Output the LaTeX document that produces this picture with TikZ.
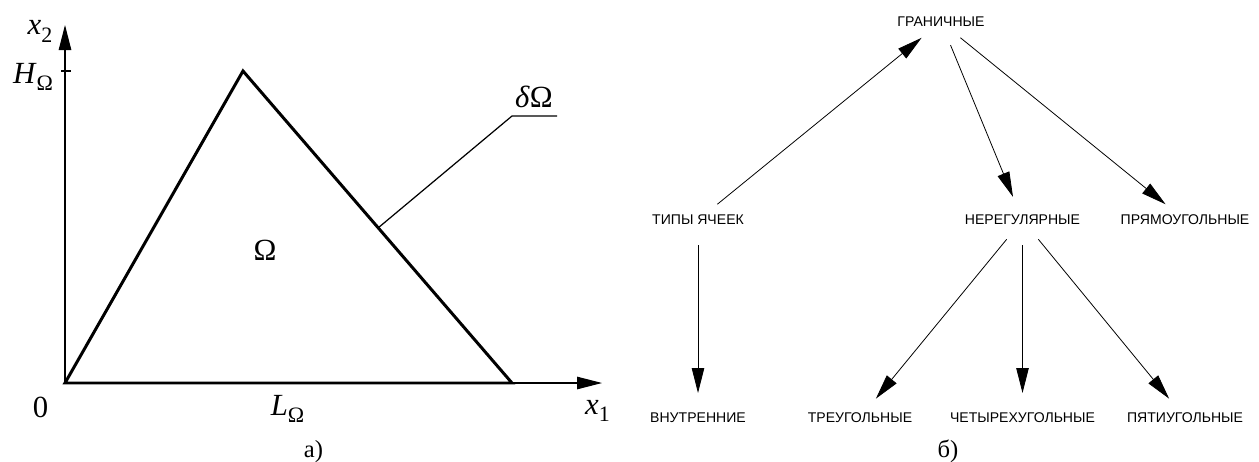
\documentclass[tikz,border=0pt]{standalone}
\usepackage{fontspec}
\usetikzlibrary{arrows.meta}
\newfontfamily\tms{Liberation Serif}
\newfontfamily\lab{Liberation Sans}
\newcommand\lo[1]{\raisebox{-0.25em}{\fontsize{12.5}{13}\selectfont #1}}
\begin{document}
\begin{tikzpicture}[x=0.2mm,y=-0.2mm,
    mlab/.style={anchor=base,inner sep=0pt,font=\tms\fontsize{17.5}{20}\selectfont},
    captext/.style={anchor=base,inner sep=0pt,font=\tms\fontsize{14}{16}\selectfont},
    lbl/.style={inner sep=0pt,font=\lab\fontsize{8}{10}\selectfont},
    axis/.style={line width=0.6pt,-{Triangle[length=5mm,width=2.5mm]}},
    bound/.style={line width=1.7pt},
    arr/.style={line width=0.45pt,-{Triangle[length=5mm,width=2.5mm]},shorten <=5mm,shorten >=5mm}]
    \useasboundingbox (0,0) rectangle (1259,461);

    % Oblast
    \coordinate (O) at (65,383);
    \coordinate (xend) at (602,383);
    \coordinate (yend) at (65,25);
    \coordinate (apex) at (243,71);
    \coordinate (rv) at (512,383);
    \coordinate (foot) at (378,228);
    \coordinate (knee) at (512,116);
    \coordinate (lend) at (557,116);
    \draw[axis] (O) -- (xend);
    \draw[axis] (O) -- (yend);
    \draw[line width=0.6pt] (61,71) -- (71,71);
    \draw[bound] (O) -- (apex) -- (rv) -- cycle;
    \draw[line width=0.7pt] (foot) -- (knee) -- (lend);
    \node[mlab] (xtwo) at (40,35) {\textit{x}\lo{2}};
    \node[mlab] (hom) at (33,83) {\textit{H}\lo{Ω}};
    \node[mlab] (zero) at (40.5,417) {0};
    \node[mlab] (lom) at (287.5,415) {\textit{L}\lo{Ω}};
    \node[mlab] (xone) at (597.5,414) {\textit{x}\lo{1}};
    \node[mlab] (dom) at (534,107) {\textit{δ}Ω};
    \node[mlab] (om) at (265,260) {Ω};
    \node[captext] (capa) at (313.5,457) {а)};

    % Tipy yacheek
    \node[lbl] (gran) at (941,22) {ГРАНИЧНЫЕ};
    \node[lbl] (tip) at (698,220) {ТИПЫ ЯЧЕЕК};
    \node[lbl] (nereg) at (1022.5,220) {НЕРЕГУЛЯРНЫЕ};
    \node[lbl] (pryam) at (1185,220) {ПРЯМОУГОЛЬНЫЕ};
    \node[lbl] (vnut) at (698,418) {ВНУТРЕННИЕ};
    \node[lbl] (treug) at (860,418) {ТРЕУГОЛЬНЫЕ};
    \node[lbl] (chet) at (1022.5,418) {ЧЕТЫРЕХУГОЛЬНЫЕ};
    \node[lbl] (pyat) at (1185,418) {ПЯТИУГОЛЬНЫЕ};
    \draw[arr] (tip.center) -- (gran.center);
    \draw[arr] (tip.center) -- (vnut.center);
    \draw[arr] (gran.center) -- (nereg.center);
    \draw[arr] (gran.center) -- (pryam.center);
    \draw[arr] (nereg.center) -- (treug.center);
    \draw[arr] (nereg.center) -- (chet.center);
    \draw[arr] (nereg.center) -- (pyat.center);
    \node[captext] (capb) at (948,457) {б)};
\end{tikzpicture}
\end{document}
